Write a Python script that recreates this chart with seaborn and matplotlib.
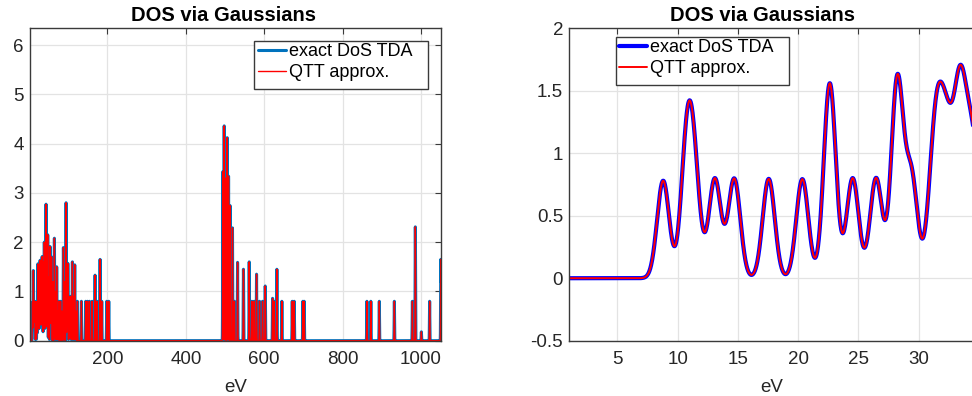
import numpy as np
import pandas as pd
import matplotlib
matplotlib.use('Agg')
import matplotlib.pyplot as plt
from matplotlib.ticker import FuncFormatter
from matplotlib.patches import Rectangle
import seaborn as sns

# ---------------- data ----------------
# low-energy states (eV) and Gaussian peak heights (shared by both panels)
low_energies = [8.79, 10.76, 11.38, 13.08, 14.69, 17.55, 20.34, 22.62, 24.52, 26.46,
                28.22, 29.40, 31.16, 31.66, 32.37, 33.24, 33.57, 34.27, 34.84]
low_heights = [0.78, 1.00, 0.71, 0.795, 0.795, 0.795, 0.793, 1.56, 0.80, 0.80,
               1.58, 0.80, 0.60, 0.865, 0.89, 0.74, 0.77, 0.70, 0.54]

# higher-energy states (eV) and peak heights (left panel only)
high_energies = [37.0, 39.0, 41.2, 43.4, 45.5, 47.7, 50.5, 53.6, 55.5, 57.5, 61.0,
                 64.7, 67.5, 70.6, 73.5, 76.6, 80.5, 84.0, 87.7, 91.0, 94.5, 97.0,
                 99.0, 102.0, 104.7, 107.5, 110.6, 113.5, 116.6, 119.5, 123.4,
                 133.6, 144.7, 149.0, 154.0, 160.9, 168.5, 173.6, 181.3, 185.5,
                 198.3, 203.4,
                 494.5, 497.9, 501.5, 505.5, 509.0, 513.0, 519.0, 524.0, 532.0, 547.0,
                 561.7, 568.5, 574.5, 580.4, 588.0, 595.7, 602.6, 621.3, 625.5, 632.3,
                 645.0, 671.5, 676.6, 698.7, 702.0,
                 862.0, 872.0, 893.6, 932.0, 978.0, 985.5, 1000.9, 1022.0, 1050.5]
high_heights = [1.60, 2.00, 1.00, 2.77, 1.20, 2.15, 1.30, 1.91, 1.00, 1.70, 1.20,
                2.08, 1.00, 1.50, 0.60, 0.80, 0.80, 0.60, 1.89, 1.20, 2.80, 1.30,
                1.57, 0.80, 0.90, 0.90, 1.60, 0.90, 1.54, 0.60, 0.80,
                0.80, 0.80, 0.80, 0.80, 0.80, 1.33, 0.80, 1.65, 0.80,
                0.80, 0.80,
                3.43, 4.36, 3.30, 4.12, 3.34, 2.74, 2.29, 0.80, 1.59, 1.45,
                1.60, 0.80, 0.80, 1.35, 0.80, 0.80, 1.11, 0.86, 0.80, 1.45,
                0.80, 0.80, 0.80, 0.80, 0.80,
                0.80, 0.80, 0.80, 0.80, 0.80, 2.31, 0.18, 0.80, 1.65]

sigma = 0.5
legend_labels = ["exact DoS TDA", "QTT approx."]
title = "DOS via Gaussians"


def dos(x, centers, heights):
    c = np.asarray(centers)[None, :]
    h = np.asarray(heights)[None, :]
    return (h * np.exp(-(x[:, None] - c) ** 2 / (2 * sigma ** 2))).sum(axis=1)


x_full = np.arange(2.5, 1051.0, 0.1)
y_full = dos(x_full, low_energies, low_heights) + dos(x_full, high_energies, high_heights)
df_full = pd.DataFrame({"eV": x_full, "dos": y_full})
x_low = np.linspace(1.0, 34.7, 1500)
df_low = pd.DataFrame({"eV": x_low, "dos": dos(x_low, low_energies, low_heights)})

# ---------------- style ----------------
sns.set_theme(style="white")
plt.rcParams['font.family'] = ['Liberation Sans', 'DejaVu Sans']
plt.rcParams['axes.unicode_minus'] = False

fig = plt.figure(figsize=(9.72, 3.96), dpi=100)
W, H = 972.0, 396.0

def add_ax(x0, y0, x1, y1):
    return fig.add_axes([x0 / W, 1 - y1 / H, (x1 - x0) / W, (y1 - y0) / H])

ax1 = add_ax(30, 28.3, 441, 340.7)
ax2 = add_ax(569.3, 28.3, 975, 340.7)

gfmt = FuncFormatter(lambda v, p: f"{v:g}")

for ax in (ax1, ax2):
    ax.set_facecolor('white')
    ax.grid(True, color='#E3E3E3', linewidth=0.9)
    ax.set_axisbelow(True)
    for s in ax.spines.values():
        s.set_color('#3a3a3a')
        s.set_linewidth(1.0)
    ax.tick_params(direction='in', length=4, width=0.8, colors='#3a3a3a',
                   labelcolor='#262626', labelsize=13.5,
                   top=True, right=True)
    ax.tick_params(axis='x', pad=7.5)
    ax.tick_params(axis='y', pad=4.5)
    ax.yaxis.set_major_formatter(gfmt)
    ax.xaxis.set_major_formatter(gfmt)
ax2.tick_params(right=False)

# left panel
sns.lineplot(data=df_full, x="eV", y="dos", ax=ax1, color='#0072BD', linewidth=2.2,
             estimator=None, sort=False, label=legend_labels[0])
sns.lineplot(data=df_full, x="eV", y="dos", ax=ax1, color='#FF0000', linewidth=1.0,
             estimator=None, sort=False, label=legend_labels[1])
ax1.set_xlim(2.5, 1051)
ax1.set_ylim(0, 6.34)
ax1.set_xticks([200, 400, 600, 800, 1000])
ax1.set_yticks([0, 1, 2, 3, 4, 5, 6])

# right panel
sns.lineplot(data=df_low, x="eV", y="dos", ax=ax2, color='#0000FF', linewidth=3.0,
             estimator=None, sort=False, label=legend_labels[0])
sns.lineplot(data=df_low, x="eV", y="dos", ax=ax2, color='#FF0000', linewidth=1.4,
             estimator=None, sort=False, label=legend_labels[1])
ax2.set_xlim(1, 34.67)
ax2.set_ylim(-0.5, 2)
ax2.set_xticks([5, 10, 15, 20, 25, 30])
ax2.set_yticks([-0.5, 0, 0.5, 1, 1.5, 2])

panels = [
    (ax1, 0.4696, (258.3, 43.5), (254, 40.7, 428, 89)),
    (ax2, 0.476, (619.3, 39.5), (615.7, 36.7, 789.3, 85)),
]
for ax, tx, (lx, ly), (bx0, by0, bx1, by1) in panels:
    ax.set_title(title, fontsize=14.5, fontweight='bold', color='black', pad=5, x=tx)
    ax.set_xlabel("eV", fontsize=13.5, color='#262626', labelpad=8)
    ax.set_ylabel("")
    box = Rectangle((bx0 / W, 1 - by1 / H), (bx1 - bx0) / W, (by1 - by0) / H,
                    transform=fig.transFigure, facecolor='white', edgecolor='#3a3a3a',
                    linewidth=1.0, zorder=4.5, clip_on=False)
    ax.add_artist(box)
    leg = ax.legend(loc='upper left', bbox_to_anchor=(lx / W, 1 - ly / H),
                    bbox_transform=fig.transFigure,
                    fontsize=13, frameon=False, borderpad=0, labelspacing=0.22,
                    handlelength=1.53, handletextpad=0.18, borderaxespad=0)
    leg.set_zorder(5)
    for t in leg.get_texts():
        t.set_color('black')

fig.savefig('out.png', dpi=100)
